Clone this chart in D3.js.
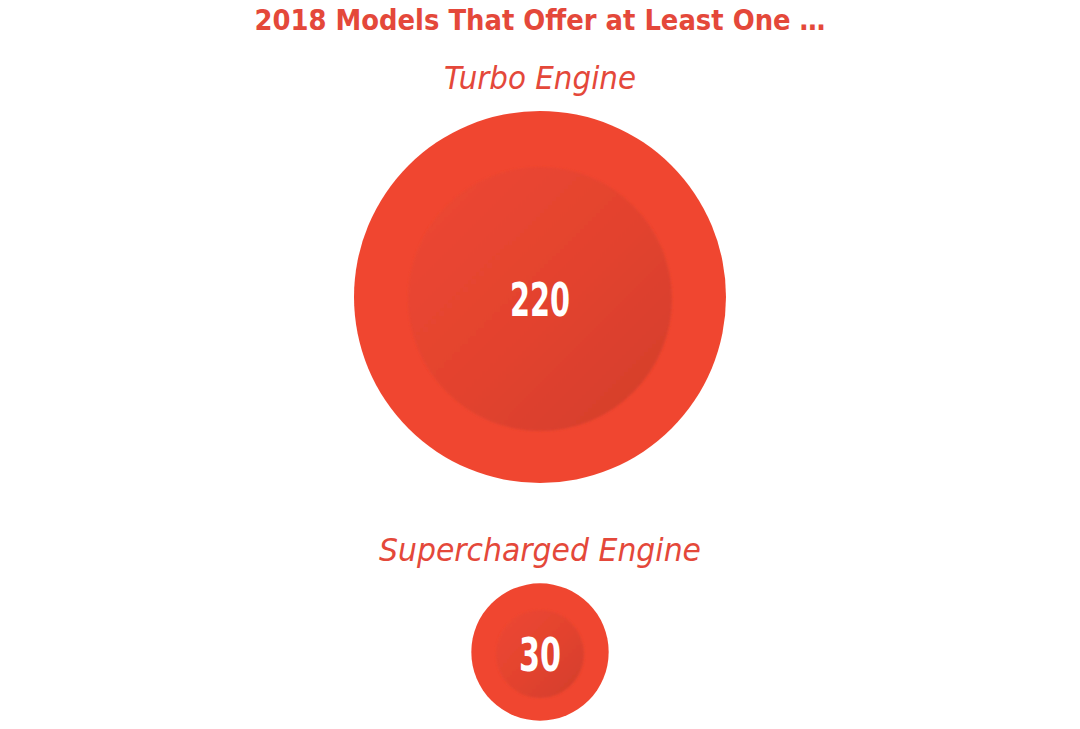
<!DOCTYPE html>
<html>
<head>
<meta charset="utf-8">
<script src="https://cdn.jsdelivr.net/npm/d3@7"></script>
<style>
  html, body { margin: 0; padding: 0; background: #ffffff; }
  svg { display: block; }
  .cond { font-family: "Liberation Sans Narrow", "DejaVu Sans Condensed", "Roboto", sans-serif; }
</style>
</head>
<body>
<svg id="chart" width="1080" height="729"></svg>
<script>
// ---- data ----
const titleText = "2018 Models That Offer at Least One \u2026";
const categories = ["Turbo Engine", "Supercharged Engine"];
const values = [220, 30];

// ---- layout ----
const W = 1080, H = 729;
const cx = 540;
const svg = d3.select("#chart");

const rScale = d3.scaleSqrt().domain([0, d3.max(values)]).range([0, 186]);
const yScale = d3.scaleOrdinal().domain(categories).range([297, 652]);

const data = categories.map((c, i) => ({ cat: c, value: values[i] }));

const defs = svg.append("defs");
const grad = defs.append("linearGradient")
  .attr("id", "innerGrad")
  .attr("x1", "0%").attr("y1", "0%").attr("x2", "100%").attr("y2", "100%");
grad.append("stop").attr("offset", "0%").attr("stop-color", "#ED4731");
grad.append("stop").attr("offset", "55%").attr("stop-color", "#E2432F");
grad.append("stop").attr("offset", "100%").attr("stop-color", "#D23E2B");

const blur = defs.append("filter").attr("id", "soft")
  .attr("x", "-10%").attr("y", "-10%").attr("width", "120%").attr("height", "120%");
blur.append("feGaussianBlur").attr("stdDeviation", 1.2);

const textColor = "#E4483A";

// title
svg.append("text")
  .attr("class", "cond")
  .attr("x", cx).attr("y", 30)
  .attr("text-anchor", "middle")
  .attr("font-size", 29)
  .attr("font-weight", "bold")
  .attr("fill", textColor)
  .attr("textLength", 571)
  .attr("lengthAdjust", "spacingAndGlyphs")
  .text(titleText);

const labelWidths = { "Turbo Engine": 192, "Supercharged Engine": 322 };
const numWidths = { 220: 60, 30: 42 };

const g = svg.selectAll("g.bubble").data(data).enter().append("g").attr("class", "bubble");

g.append("circle")
  .attr("cx", cx)
  .attr("cy", d => yScale(d.cat))
  .attr("r", d => rScale(d.value))
  .attr("fill", "#F04630");

g.append("circle")
  .attr("cx", cx)
  .attr("cy", d => yScale(d.cat) + 2)
  .attr("r", d => 0.75 * rScale(d.value) - 7.5)
  .attr("fill", "url(#innerGrad)")
  .attr("filter", "url(#soft)");

g.append("text")
  .attr("class", "cond")
  .attr("x", cx)
  .attr("y", d => yScale(d.cat) - rScale(d.value) - 22)
  .attr("text-anchor", "middle")
  .attr("font-size", 32)
  .attr("font-style", "italic")
  .attr("fill", textColor)
  .attr("textLength", d => labelWidths[d.cat])
  .attr("lengthAdjust", "spacingAndGlyphs")
  .text(d => d.cat);

g.append("text")
  .attr("class", "cond")
  .attr("x", cx)
  .attr("y", d => yScale(d.cat) + 19)
  .attr("text-anchor", "middle")
  .attr("font-size", 46)
  .attr("font-weight", "bold")
  .attr("fill", "#ffffff")
  .attr("textLength", d => numWidths[d.value])
  .attr("lengthAdjust", "spacingAndGlyphs")
  .text(d => d.value);
</script>
</body>
</html>
